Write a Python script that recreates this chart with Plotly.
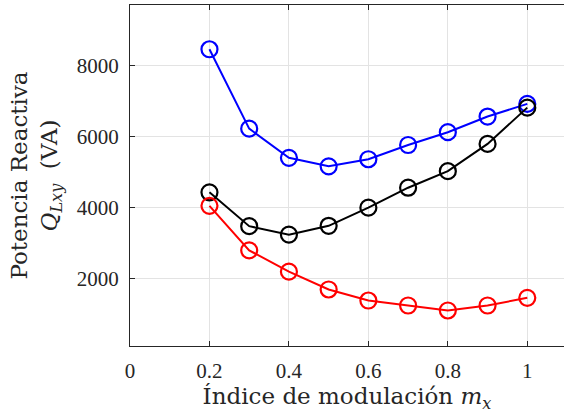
import plotly.graph_objects as go

mx = [0.2, 0.3, 0.4, 0.5, 0.6, 0.7, 0.8, 0.9, 1.0]
q_blue = [8450, 6220, 5400, 5160, 5360, 5760, 6120, 6560, 6915]
q_black = [4430, 3480, 3240, 3490, 4000, 4560, 5025, 5790, 6810]
q_red = [4050, 2800, 2200, 1700, 1390, 1250, 1110, 1250, 1465]

x_ticks = [0, 0.2, 0.4, 0.6, 0.8, 1.0]
x_tick_text = ["0", "0.2", "0.4", "0.6", "0.8", "1"]
y_ticks = [2000, 4000, 6000, 8000]
y_tick_text = ["2000", "4000", "6000", "8000"]

FONT = "Liberation Serif"
TFONT = "DejaVu Serif"
fig = go.Figure()
for ys, col in [(q_blue, "#0000ff"), (q_black, "#000000"), (q_red, "#ff0000")]:
    fig.add_trace(go.Scatter(
        x=mx, y=ys, mode="lines+markers",
        line=dict(color=col, width=2),
        marker=dict(symbol="circle-open", size=16, color=col, line=dict(width=2.2, color=col)),
        showlegend=False,
    ))

axis_common = dict(
    showgrid=True, gridcolor="#e3e3e3", gridwidth=1,
    showline=True, linecolor="#262626", linewidth=1.3,
    ticks="inside", ticklen=5, tickcolor="#262626", tickwidth=1,
    zeroline=False, automargin=False,
    tickfont=dict(family=FONT, size=21, color="#262626"),
)

fig.update_layout(
    width=564, height=414,
    margin=dict(l=130, r=0, t=5, b=68),
    paper_bgcolor="white", plot_bgcolor="white",
    font=dict(family=FONT, color="#262626"),
    xaxis=dict(
        range=[0, 1.0924], tickvals=x_ticks, ticktext=x_tick_text,
        mirror="ticks", ticklabelstandoff=6,
        title=dict(text="Índice de modulación <i>m</i><sub><i>x</i></sub>",
                   font=dict(family=TFONT, size=23, color="#262626"), standoff=2),
        **axis_common,
    ),
    yaxis=dict(
        range=[112, 9694], tickvals=y_ticks, ticktext=y_tick_text,
        ticklabelstandoff=6,
        title=dict(text="Potencia Reactiva<br><i>Q</i><sub><i>Lxy</i></sub>  (VA)",
                   font=dict(family=TFONT, size=23, color="#262626"), standoff=12),
        **axis_common,
    ),
)

fig.write_html(
    "out.html",
    config={"displayModeBar": False},
    post_script="document.body.style.margin='0';document.body.style.padding='0';document.body.style.overflow='hidden';",
)
